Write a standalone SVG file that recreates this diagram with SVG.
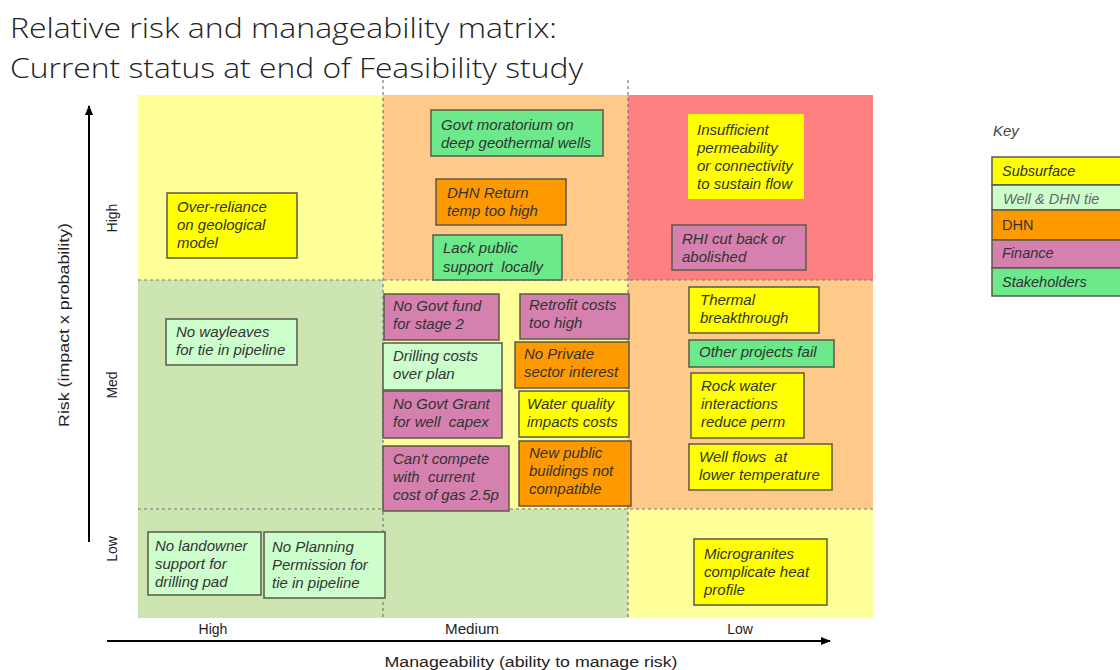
<svg xmlns="http://www.w3.org/2000/svg" width="1120" height="670" viewBox="0 0 1120 670">
<style>
.t{font-family:"Liberation Sans",Arial,sans-serif;font-style:italic;font-size:15px;fill:#333}
.ax{font-family:"Liberation Sans",Arial,sans-serif;font-size:14px;fill:#222}
.title{font-family:"Open Sans","DejaVu Sans",sans-serif;font-weight:300;font-size:28px;fill:#222}
.b{stroke:#5a5a4a;stroke-width:1.5}
.y{fill:#FFFF00}.lg{fill:#CCFFCC}.o{fill:#FF9900}.p{fill:#D580AE}.g{fill:#6CE98A}
.dash{stroke:#777;stroke-width:1.2;stroke-dasharray:3,3;fill:none}
</style>
<defs>
<marker id="ah" markerWidth="10" markerHeight="8" refX="9" refY="4" orient="auto" markerUnits="userSpaceOnUse">
<path d="M0,0 L10,4 L0,8 z" fill="#000"/>
</marker>
</defs>
<rect width="1120" height="670" fill="#fff"/>
<text class="title" x="10" y="38" textLength="547" lengthAdjust="spacingAndGlyphs">Relative risk and manageability matrix:</text>
<text class="title" x="10" y="78" textLength="573" lengthAdjust="spacingAndGlyphs">Current status at end of Feasibility study</text>
<g id="grid">
<rect x="138" y="95" width="245" height="185" fill="#FFFF99"/>
<rect x="383" y="95" width="245" height="185" fill="#FFC98A"/>
<rect x="628" y="95" width="245" height="185" fill="#FF8080"/>
<rect x="138" y="280" width="245" height="229" fill="#CDE6B1"/>
<rect x="383" y="280" width="245" height="229" fill="#FFFF99"/>
<rect x="628" y="280" width="245" height="229" fill="#FFC98A"/>
<rect x="138" y="509" width="245" height="109" fill="#CDE6B1"/>
<rect x="383" y="509" width="245" height="109" fill="#CDE6B1"/>
<rect x="628" y="509" width="245" height="109" fill="#FFFF99"/>
<line class="dash" x1="383" y1="80" x2="383" y2="620"/>
<line class="dash" x1="628" y1="80" x2="628" y2="620"/>
<line class="dash" x1="138" y1="280" x2="873" y2="280"/>
<line class="dash" x1="138" y1="509" x2="873" y2="509"/>
</g>
<g id="axes">
<line x1="89" y1="542" x2="89" y2="106" stroke="#000" stroke-width="2" marker-end="url(#ah)"/>
<line x1="107" y1="641" x2="830" y2="641" stroke="#000" stroke-width="2" marker-end="url(#ah)"/>
<text class="ax" transform="translate(69,325) rotate(-90)" text-anchor="middle" font-size="15" textLength="204" lengthAdjust="spacingAndGlyphs">Risk  (impact x probability)</text>
<text class="ax" transform="translate(117,218) rotate(-90)" text-anchor="middle">High</text>
<text class="ax" transform="translate(117,385) rotate(-90)" text-anchor="middle">Med</text>
<text class="ax" transform="translate(117,549) rotate(-90)" text-anchor="middle">Low</text>
<text class="ax" x="213" y="634" text-anchor="middle">High</text>
<text class="ax" x="472" y="634" text-anchor="middle" textLength="54" lengthAdjust="spacingAndGlyphs">Medium</text>
<text class="ax" x="740" y="634" text-anchor="middle">Low</text>
<text class="ax" x="531" y="667" text-anchor="middle" font-size="15" textLength="293" lengthAdjust="spacingAndGlyphs">Manageability (ability to manage risk)</text>
</g>
<g id="n1"><rect class="b y" x="167" y="193" width="130" height="65"/><text class="t" x="177" y="212">Over-reliance</text><text class="t" x="177" y="230">on geological</text><text class="t" x="177" y="248">model</text></g>
<g id="n2"><rect class="b g" x="431" y="110" width="172" height="46"/><text class="t" x="441" y="130">Govt moratorium on</text><text class="t" x="441" y="148">deep geothermal wells</text></g>
<g id="n3"><rect class="b o" x="436" y="179" width="130" height="46"/><text class="t" x="447" y="198">DHN Return</text><text class="t" x="447" y="216">temp too high</text></g>
<g id="n4"><rect class="b g" x="433" y="235" width="129" height="45"/><text class="t" x="443" y="253">Lack public</text><text class="t" x="443" y="272" xml:space="preserve">support  locally</text></g>
<g id="n5"><rect class="y" x="688" y="114" width="116" height="85"/><text class="t" x="697" y="135">Insufficient</text><text class="t" x="697" y="153">permeability</text><text class="t" x="697" y="171">or connectivity</text><text class="t" x="697" y="189">to sustain flow</text></g>
<g id="n6"><rect class="b p" x="672" y="225" width="134" height="45"/><text class="t" x="682" y="244">RHI cut back or</text><text class="t" x="682" y="262">abolished</text></g>
<g id="n7"><rect class="b lg" x="166" y="319" width="131" height="46"/><text class="t" x="176" y="337">No wayleaves</text><text class="t" x="176" y="355">for tie in pipeline</text></g>
<g id="n8"><rect class="b p" x="384" y="294" width="115" height="46"/><text class="t" x="393" y="311">No Govt fund</text><text class="t" x="393" y="329">for stage 2</text></g>
<g id="n9"><rect class="b lg" x="383" y="343" width="119" height="47"/><text class="t" x="393" y="361">Drilling costs</text><text class="t" x="393" y="379">over plan</text></g>
<g id="n10"><rect class="b p" x="383" y="391" width="119" height="47"/><text class="t" x="393" y="409">No Govt Grant</text><text class="t" x="393" y="427" xml:space="preserve">for well  capex</text></g>
<g id="n11"><rect class="b p" x="383" y="446" width="126" height="65"/><text class="t" x="393" y="464">Can't compete</text><text class="t" x="393" y="482" xml:space="preserve">with  current</text><text class="t" x="393" y="500">cost of gas 2.5p</text></g>
<g id="n12"><rect class="b p" x="520" y="294" width="109" height="45"/><text class="t" x="529" y="310">Retrofit costs</text><text class="t" x="529" y="328">too high</text></g>
<g id="n13"><rect class="b o" x="515" y="342" width="114" height="46"/><text class="t" x="524" y="359">No Private</text><text class="t" x="524" y="377">sector interest</text></g>
<g id="n14"><rect class="b y" x="519" y="391" width="110" height="46"/><text class="t" x="527" y="409">Water quality</text><text class="t" x="527" y="427">impacts costs</text></g>
<g id="n15"><rect class="b o" x="519" y="441" width="112" height="65"/><text class="t" x="529" y="458">New public</text><text class="t" x="529" y="476">buildings not</text><text class="t" x="529" y="494">compatible</text></g>
<g id="n16"><rect class="b y" x="689" y="287" width="130" height="46"/><text class="t" x="700" y="305">Thermal</text><text class="t" x="700" y="323">breakthrough</text></g>
<g id="n17"><rect class="b g" x="689" y="340" width="145" height="27"/><text class="t" x="699" y="357">Other projects fail</text></g>
<g id="n18"><rect class="b y" x="691" y="373" width="113" height="65"/><text class="t" x="701" y="391">Rock water</text><text class="t" x="701" y="409">interactions</text><text class="t" x="701" y="427">reduce perm</text></g>
<g id="n19"><rect class="b y" x="689" y="444" width="143" height="46"/><text class="t" x="699" y="462" xml:space="preserve">Well flows  at</text><text class="t" x="699" y="480">lower temperature</text></g>
<g id="n20"><rect class="b lg" x="148" y="532" width="113" height="63"/><text class="t" x="155" y="551">No landowner</text><text class="t" x="155" y="569">support for</text><text class="t" x="155" y="587">drilling pad</text></g>
<g id="n21"><rect class="b lg" x="264" y="532" width="121" height="66"/><text class="t" x="272" y="552">No Planning</text><text class="t" x="272" y="570">Permission for</text><text class="t" x="272" y="588">tie in pipeline</text></g>
<g id="n22"><rect class="b y" x="694" y="539" width="133" height="66"/><text class="t" x="704" y="559">Microgranites</text><text class="t" x="704" y="577">complicate heat</text><text class="t" x="704" y="595">profile</text></g>
<g id="key">
<text class="t" x="993" y="136" font-size="14" style="fill:#444">Key</text>
<rect class="b y" x="992" y="157" width="135" height="28"/>
<rect class="b lg" x="992" y="185" width="135" height="25"/>
<rect class="b o" x="992" y="210" width="135" height="30"/>
<rect class="b p" x="992" y="240" width="135" height="28"/>
<rect class="b g" x="992" y="268" width="135" height="28"/>
<text class="t" x="1002" y="176" style="font-size:14.5px">Subsurface</text>
<text class="t" x="1003" y="204" style="font-size:14.5px;fill:#666">Well &amp; DHN tie</text>
<text class="t" x="1002" y="230" style="font-size:14.5px;font-style:normal">DHN</text>
<text class="t" x="1002" y="258" style="font-size:14.5px">Finance</text>
<text class="t" x="1002" y="287" style="font-size:14.5px">Stakeholders</text>
</g>
</svg>
